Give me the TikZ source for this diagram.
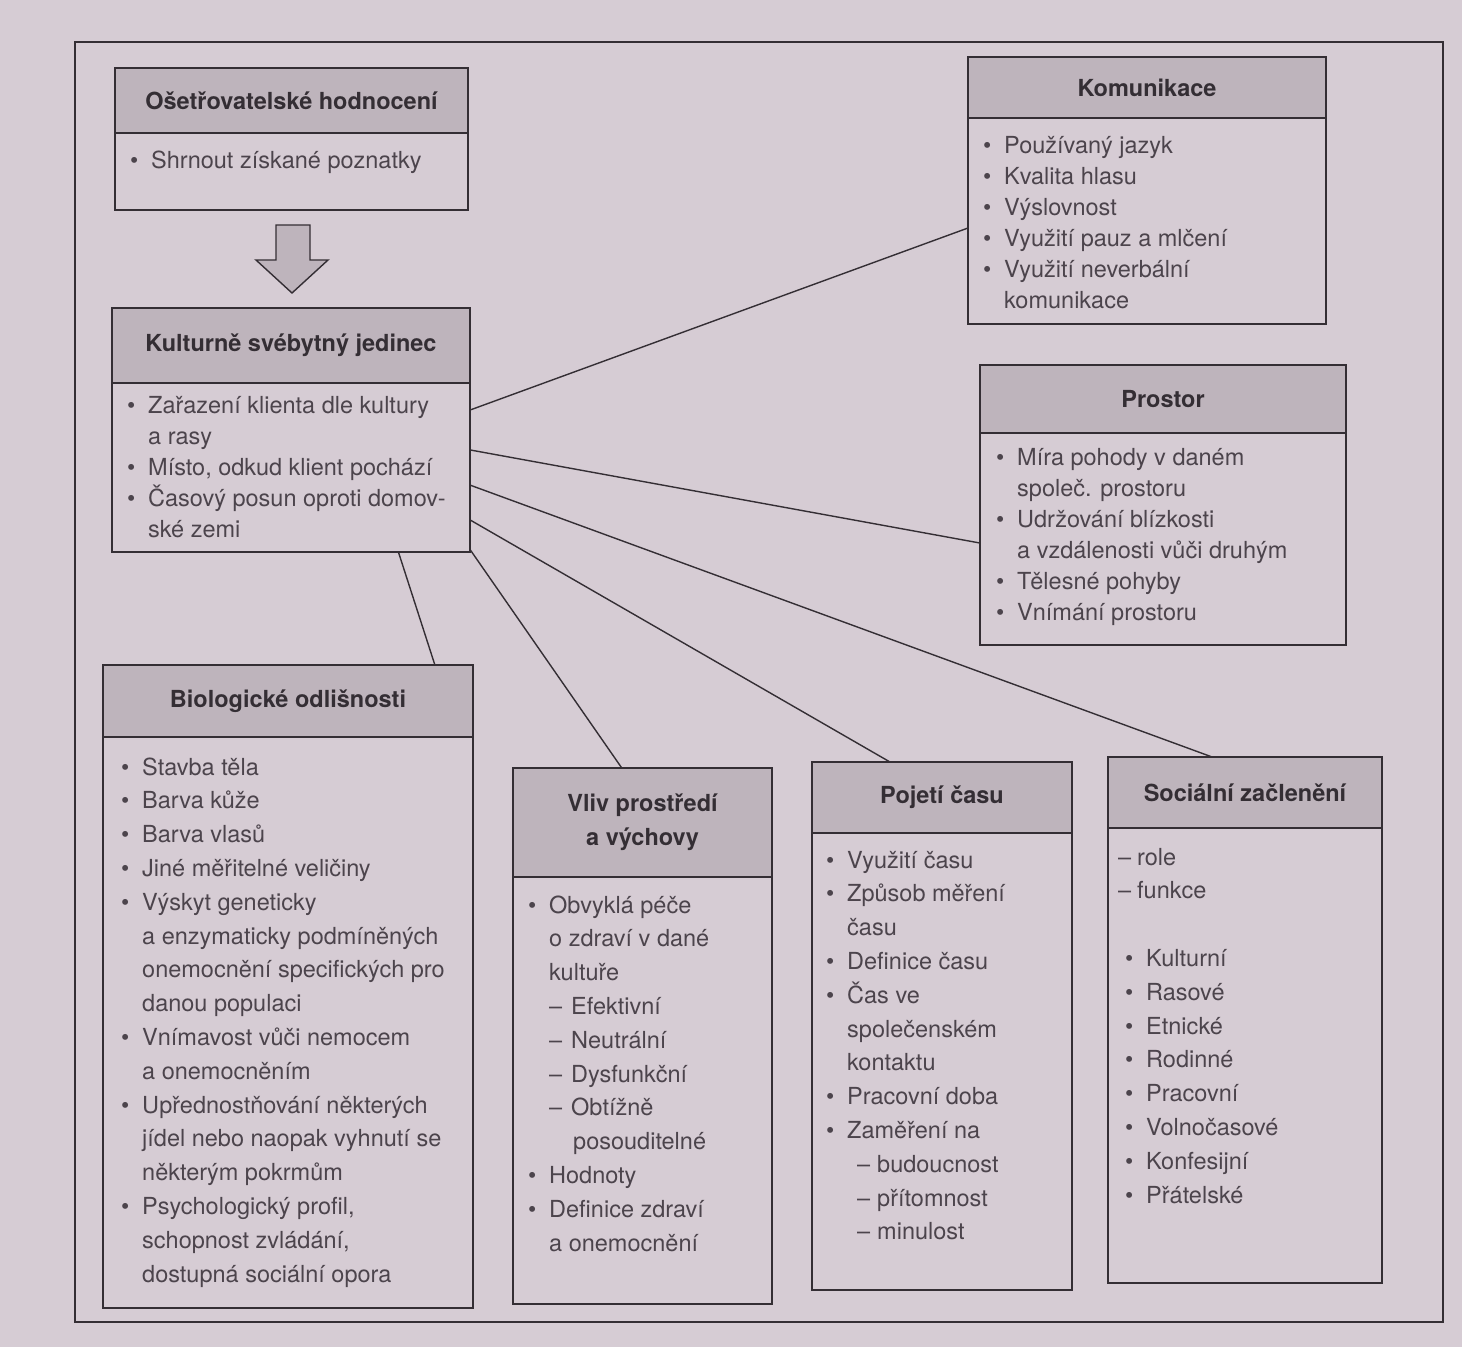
\documentclass[tikz,border=0pt]{standalone}
\usepackage{fontspec}
\setmainfont{TeX Gyre Heros}
\usetikzlibrary{calc,positioning}

\definecolor{pagebg}{RGB}{214,204,212}
\definecolor{bandgray}{RGB}{190,180,188}
\definecolor{ink}{RGB}{52,46,52}
\definecolor{inklight}{RGB}{76,68,76}

\newlength\bulw
\setlength\bulw{21pt}
\newcommand\bul{\makebox[\bulw][l]{\textbullet}}
\newcommand\nob{\hspace*{\bulw}}

\tikzset{
  head/.style={draw=ink, fill=bandgray, line width=1.6pt, anchor=north west,
    inner sep=0pt, outer sep=0pt, text=ink, align=center,
    font=\bfseries\fontsize{23.5}{34}\selectfont},
  panel/.style={draw=ink, line width=1.6pt, inner sep=0pt, outer sep=0pt},
  items/.style={anchor=base west, inner sep=0pt, text=inklight,
    font=\fontsize{23.5}{31}\selectfont},
  tallitems/.style={items, font=\fontsize{23.5}{33.8}\selectfont},
  link/.style={draw=ink, line width=1.4pt},
}

\begin{document}
\begin{tikzpicture}[x=1pt,y=-1pt]
  \fill[pagebg] (0,0) rectangle (1462,1347);
  \useasboundingbox (0,0) rectangle (1462,1347);
  \draw[ink, line width=1.4pt] (75,42) rectangle (1443,1322);

  % top left
  \node[head, minimum width=353pt, minimum height=65pt] (osetrH) at (115,68) {Ošetřovatelské hodnocení};
  \node[panel, below=0pt of osetrH, minimum width=353pt, minimum height=77pt] (osetr) {};
  \node[items] (osetrT) at ([shift={(15,35)}]osetr.north west)
    {\begin{tabular}[t]{@{}l@{}}\bul Shrnout získané poznatky\end{tabular}};

  \filldraw[fill=bandgray, draw=ink, line width=1.4pt]
    (276,225) -- (310,225) -- (310,260) -- (328,260) -- (292,293)
    -- (256,260) -- (276,260) -- cycle;

  \node[head, minimum width=358pt, minimum height=75pt] (kultH) at (112,308) {Kulturně svébytný jedinec};
  \node[panel, below=0pt of kultH, minimum width=358pt, minimum height=169pt] (kult) {};
  \node[items] (kultT) at ([shift={(15,30)}]kult.north west)
    {\begin{tabular}[t]{@{}l@{}}
      \bul Zařazení klienta dle kultury\\
      \nob a rasy\\
      \bul Místo, odkud klient pochází\\
      \bul Časový posun oproti domov-\\
      \nob ské zemi
    \end{tabular}};

  % right column
  \node[head, minimum width=358pt, minimum height=61pt] (komunH) at (968,57) {Komunikace};
  \node[panel, below=0pt of komunH, minimum width=358pt, minimum height=206pt] (komun) {};
  \node[items] (komunT) at ([shift={(15,35)}]komun.north west)
    {\begin{tabular}[t]{@{}l@{}}
      \bul Používaný jazyk\\
      \bul Kvalita hlasu\\
      \bul Výslovnost\\
      \bul Využití pauz a mlčení\\
      \bul Využití neverbální\\
      \nob komunikace
    \end{tabular}};

  \node[head, minimum width=366pt, minimum height=68pt] (prostH) at (980,365) {Prostor};
  \node[panel, below=0pt of prostH, minimum width=366pt, minimum height=212pt] (prost) {};
  \node[items] (prostT) at ([shift={(16,32)}]prost.north west)
    {\begin{tabular}[t]{@{}l@{}}
      \bul Míra pohody v daném\\
      \nob společ. prostoru\\
      \bul Udržování blízkosti\\
      \nob a vzdálenosti vůči druhým\\
      \bul Tělesné pohyby\\
      \bul Vnímání prostoru
    \end{tabular}};

  % bottom row
  \node[head, minimum width=370pt, minimum height=72pt] (bioH) at (103,665) {Biologické odlišnosti};
  \node[panel, below=0pt of bioH, minimum width=370pt, minimum height=571pt] (bio) {};
  \node[tallitems] (bioT) at ([shift={(18,38)}]bio.north west)
    {\begin{tabular}[t]{@{}l@{}}
      \bul Stavba těla\\
      \bul Barva kůže\\
      \bul Barva vlasů\\
      \bul Jiné měřitelné veličiny\\
      \bul Výskyt geneticky\\
      \nob a enzymaticky podmíněných\\
      \nob onemocnění specifických pro\\
      \nob danou populaci\\
      \bul Vnímavost vůči nemocem\\
      \nob a onemocněním\\
      \bul Upřednostňování některých\\
      \nob jídel nebo naopak vyhnutí se\\
      \nob některým pokrmům\\
      \bul Psychologický profil,\\
      \nob schopnost zvládání,\\
      \nob dostupná sociální opora
    \end{tabular}};

  \node[head, minimum width=259pt, minimum height=109pt] (vlivH) at (513,768) {Vliv prostředí\\a výchovy};
  \node[panel, below=0pt of vlivH, minimum width=259pt, minimum height=427pt] (vliv) {};
  \node[tallitems] (vlivT) at ([shift={(15,36)}]vliv.north west)
    {\begin{tabular}[t]{@{}l@{}}
      \bul Obvyklá péče\\
      \nob o zdraví v dané\\
      \nob kultuře\\
      \nob\makebox[22pt][l]{–}Efektivní\\
      \nob\makebox[22pt][l]{–}Neutrální\\
      \nob\makebox[22pt][l]{–}Dysfunkční\\
      \nob\makebox[22pt][l]{–}Obtížně\\
      \nob\hspace*{24pt}posouditelné\\
      \bul Hodnoty\\
      \bul Definice zdraví\\
      \nob a onemocnění
    \end{tabular}};

  \node[head, minimum width=260pt, minimum height=71pt] (casH) at (812,762) {Pojetí času};
  \node[panel, below=0pt of casH, minimum width=260pt, minimum height=457pt] (cas) {};
  \node[tallitems] (casT) at ([shift={(14,35)}]cas.north west)
    {\begin{tabular}[t]{@{}l@{}}
      \bul Využití času\\
      \bul Způsob měření\\
      \nob času\\
      \bul Definice času\\
      \bul Čas ve\\
      \nob společenském\\
      \nob kontaktu\\
      \bul Pracovní doba\\
      \bul Zaměření na\\
      \hspace*{31pt}\makebox[20pt][l]{–}budoucnost\\
      \hspace*{31pt}\makebox[20pt][l]{–}přítomnost\\
      \hspace*{31pt}\makebox[20pt][l]{–}minulost
    \end{tabular}};

  \node[head, minimum width=274pt, minimum height=71pt] (socH) at (1108,757) {Sociální začlenění};
  \node[panel, below=0pt of socH, minimum width=274pt, minimum height=455pt] (soc) {};
  \node[tallitems] (socT) at ([shift={(10,37)}]soc.north west)
    {\begin{tabular}[t]{@{}l@{}}
      \makebox[19pt][l]{–}role\\
      \makebox[19pt][l]{–}funkce\\
      \\
      \hspace*{7pt}\bul Kulturní\\
      \hspace*{7pt}\bul Rasové\\
      \hspace*{7pt}\bul Etnické\\
      \hspace*{7pt}\bul Rodinné\\
      \hspace*{7pt}\bul Pracovní\\
      \hspace*{7pt}\bul Volnočasové\\
      \hspace*{7pt}\bul Konfesijní\\
      \hspace*{7pt}\bul Přátelské
    \end{tabular}};

  % connectors
  \draw[link] ($(kult.north east)!0.16!(kult.south east)$) -- ($(komun.north west)!0.534!(komun.south west)$);
  \draw[link] ($(kult.north east)!0.396!(kult.south east)$) -- ($(prost.north west)!0.519!(prost.south west)$);
  \draw[link] ($(kult.north east)!0.604!(kult.south east)$) -- ($(socH.north west)!0.38!(socH.north east)$);
  \draw[link] ($(kult.north east)!0.81!(kult.south east)$) -- ($(casH.north west)!0.3!(casH.north east)$);
  \draw[link] ($(kult.north east)!0.985!(kult.south east)$) -- ($(vlivH.north west)!0.42!(vlivH.north east)$);
  \draw[link] ($(kult.south west)!0.8!(kult.south east)$) -- ($(bioH.north west)!0.897!(bioH.north east)$);
\end{tikzpicture}
\end{document}
